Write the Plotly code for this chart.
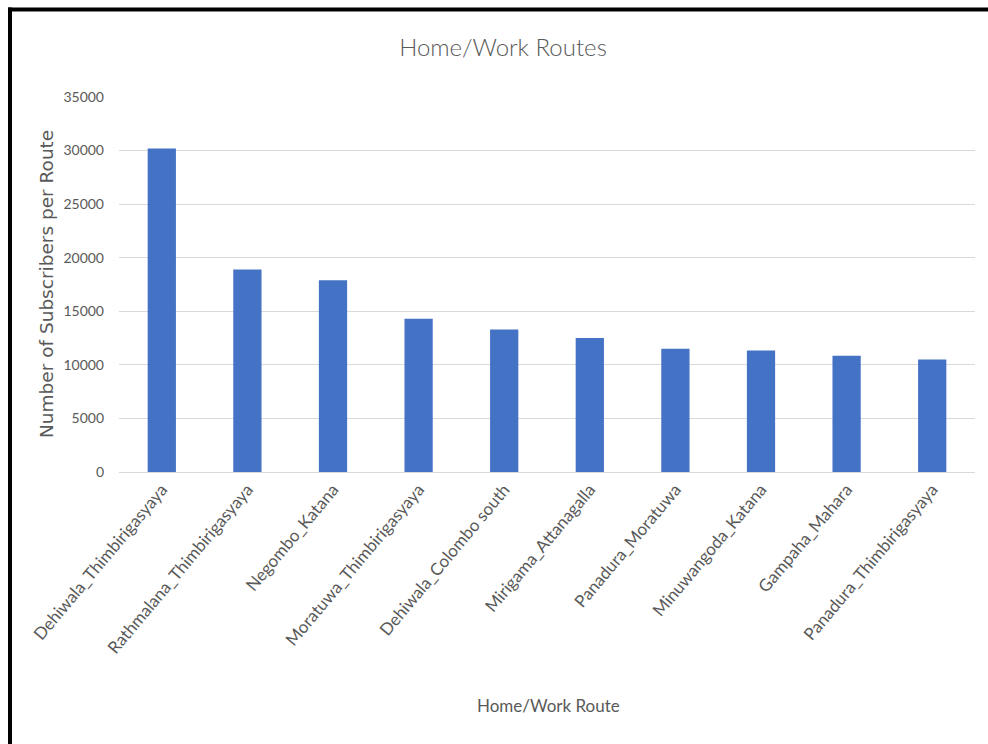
import plotly.graph_objects as go

routes = [
    "Dehiwala_Thimbirigasyaya",
    "Rathmalana_Thimbirigasyaya",
    "Negombo_Katana",
    "Moratuwa_Thimbirigasyaya",
    "Dehiwala_Colombo south",
    "Mirigama_Attanagalla",
    "Panadura_Moratuwa",
    "Minuwangoda_Katana",
    "Gampaha_Mahara",
    "Panadura_Thimbirigasyaya",
]
subscribers = [30200, 18900, 17900, 14300, 13300, 12500, 11500, 11350, 10850, 10500]
y_ticks = [0, 5000, 10000, 15000, 20000, 25000, 30000, 35000]

W, H = 988, 744
L, R, T, B = 119, 975, 97, 472  # plot area in pixels

def px_x(x):
    return (x - L) / (R - L)

def px_y(y):
    return (B - y) / (B - T)

TXT = "#595959"

fig = go.Figure(
    go.Bar(
        x=routes,
        y=subscribers,
        marker=dict(color="#4472C4", line=dict(width=0)),
    )
)

fig.update_layout(
    width=W,
    height=H,
    margin=dict(l=L, r=W - R, t=T, b=H - B, pad=0),
    paper_bgcolor="white",
    plot_bgcolor="white",
    bargap=0.67,
    showlegend=False,
    title=dict(
        text="Home/Work Routes",
        x=503 / W,
        xref="container",
        xanchor="center",
        y=1 - 48 / H,
        yref="container",
        yanchor="middle",
        font=dict(family="Lato", size=24, color=TXT, weight=300),
    ),
    xaxis=dict(
        tickangle=-50,
        tickfont=dict(family="Lato", size=17, color=TXT),
        showgrid=False,
        showline=True,
        linecolor="#d9d9d9",
        linewidth=1,
        ticks="",
    ),
    yaxis=dict(
        range=[0, 35000],
        tickvals=y_ticks,
        ticktext=[str(v) for v in y_ticks],
        tickfont=dict(family="Lato", size=14, color=TXT),
        showgrid=True,
        gridcolor="#d9d9d9",
        gridwidth=1,
        zeroline=False,
        showline=False,
        ticks="",
        ticklabelstandoff=14,
    ),
    annotations=[
        dict(
            text="Home/Work Route",
            x=px_x(548), y=px_y(705),
            xref="paper", yref="paper",
            xanchor="center", yanchor="middle",
            showarrow=False,
            font=dict(family="Lato", size=17, color=TXT),
        ),
        dict(
            text="Number of Subscribers per Route",
            x=px_x(46), y=px_y(284),
            xref="paper", yref="paper",
            xanchor="center", yanchor="middle",
            textangle=-90,
            showarrow=False,
            font=dict(family="DejaVu Sans", size=18.5, color=TXT),
        ),
    ],
    shapes=[
        dict(type="line", xref="paper", yref="paper",
             x0=px_x(10), x1=px_x(10), y0=px_y(7.5), y1=px_y(750),
             line=dict(color="black", width=4)),
        dict(type="line", xref="paper", yref="paper",
             x0=px_x(8), x1=px_x(995), y0=px_y(9.5), y1=px_y(9.5),
             line=dict(color="black", width=4)),
    ],
)

fig.write_html("out.html")
